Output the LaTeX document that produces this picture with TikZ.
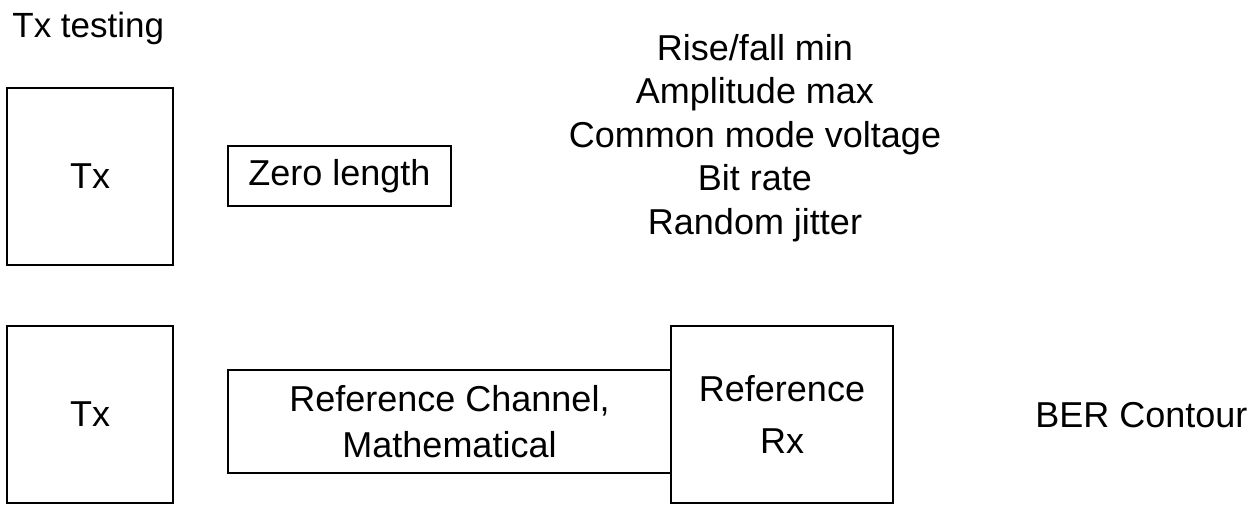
\documentclass[tikz,border=0pt]{standalone}
\usepackage{fontspec}
\setmainfont{Liberation Sans}
\begin{document}
\begin{tikzpicture}[x=0.5pt,y=-0.5pt,
  box/.style={draw, line width=1.3pt, inner sep=0pt, align=center,
              font=\fontsize{18}{23}\selectfont},
  txt/.style={inner sep=0pt, font=\fontsize{18}{23}\selectfont}]
\useasboundingbox (0,0) rectangle (1252,505);

% heading
\node[txt, anchor=base west, font=\fontsize{17.5}{21}\selectfont] (title) at (12,37) {Tx testing};

% upper row: transmitter into a zero-length connection
\node[box, minimum width=83pt, minimum height=88.5pt] (tx1) at (90,176.5) {Tx};
\node[box, minimum width=111.5pt, minimum height=30pt] (zero) at (339.5,176) {Zero length};

% parameters checked at the transmitter
\foreach \t [count=\i from 0] in {Rise/fall min, Amplitude max, Common mode voltage, Bit rate, Random jitter}
  \node[txt, anchor=base] (param\i) at (755,60+43.5*\i) {\t};

% lower row: transmitter, reference channel and reference receiver
\node[box, minimum width=83pt, minimum height=88.5pt] (tx2) at (90,414.5) {Tx};
\node[box, minimum width=221.5pt, minimum height=51.5pt] (chan) at (449.5,421.5)
  {Reference Channel,\\Mathematical};
\node[box, minimum width=111pt, minimum height=88.5pt,
      font=\fontsize{18}{26}\selectfont] (rx) at (782,414.5) {Reference\\Rx};

\node[txt, anchor=base west] (ber) at (1035,427) {BER Contour};
\end{tikzpicture}
\end{document}
